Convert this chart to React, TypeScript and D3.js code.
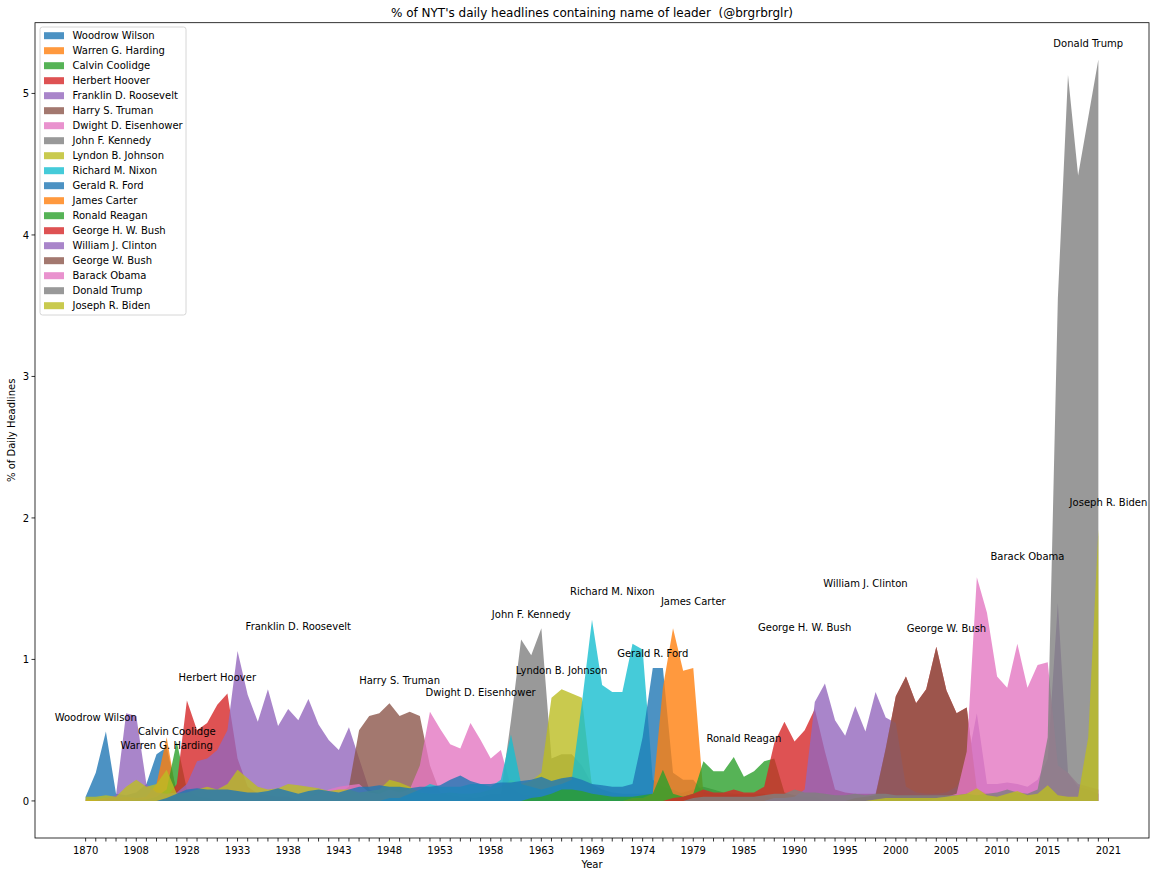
import React from 'react';
import * as d3 from 'd3';

// leaders in plotting order (later ones are drawn on top)
const leaders = [
  'Woodrow Wilson', 'Warren G. Harding', 'Calvin Coolidge', 'Herbert Hoover',
  'Franklin D. Roosevelt', 'Harry S. Truman', 'Dwight D. Eisenhower', 'John F. Kennedy',
  'Lyndon B. Johnson', 'Richard M. Nixon', 'Gerald R. Ford', 'James Carter',
  'Ronald Reagan', 'George H. W. Bush', 'William J. Clinton', 'George W. Bush',
  'Barack Obama', 'Donald Trump', 'Joseph R. Biden',
];

const N_POINTS = 101;

// x tick labels (index on the year axis -> year shown)
const tickIdx = [0, 5, 10, 15, 20, 25, 30, 35, 40, 45, 50, 55, 60, 65, 70, 75, 80, 85, 90, 95, 101];
const tickYears = [1870, 1908, 1928, 1933, 1938, 1943, 1948, 1953, 1958, 1963, 1969, 1974, 1979, 1985, 1990, 1995, 2000, 2005, 2010, 2015, 2021];
const yTicks = [0, 1, 2, 3, 4, 5];

// % of headlines per leader: [first year index, values...] (zero outside)
const wilson: [number, number[]] = [0, [0.03, 0.2, 0.49, 0.05, 0.04, 0.06, 0.12, 0.33, 0.38, 0.06, 0.04, 0.03, 0.02]];
const harding: [number, number[]] = [0, [0.01, 0.01, 0.02, 0.02, 0.03, 0.02, 0.03, 0.12, 0.45, 0.04, 0.02]];
const coolidge: [number, number[]] = [5, [0.01, 0.01, 0.03, 0.08, 0.42, 0.08, 0.03, 0.02]];
const hoover: [number, number[]] = [8, [0.02, 0.12, 0.71, 0.5, 0.55, 0.68, 0.76, 0.3, 0.1, 0.05, 0.04, 0.03, 0.03]];
const roosevelt: [number, number[]] = [2, [
  0.02, 0.04, 0.62, 0.6, 0.12, 0.06, 0.05, 0.06, 0.12, 0.28, 0.3, 0.36, 0.5, 1.06, 0.75,
  0.56, 0.79, 0.53, 0.65, 0.57, 0.72, 0.54, 0.43, 0.36, 0.52, 0.3, 0.08, 0.05, 0.04, 0.03, 0.03]];
const truman: [number, number[]] = [24, [0.03, 0.05, 0.1, 0.5, 0.6, 0.62, 0.69, 0.6, 0.63, 0.6, 0.25, 0.06, 0.04, 0.03, 0.03]];
const eisenhower: [number, number[]] = [22, [
  0.03, 0.05, 0.08, 0.1, 0.11, 0.12, 0.06, 0.05, 0.08, 0.06, 0.08, 0.25, 0.63, 0.51, 0.4,
  0.37, 0.55, 0.43, 0.3, 0.36, 0.1, 0.05, 0.04, 0.03]];
const kennedy: [number, number[]] = [38, [
  0.02, 0.03, 0.05, 0.05, 0.57, 1.14, 1.03, 1.22, 0.3, 0.33, 0.33, 0.25, 0.12, 0.08, 0.06,
  0.05, 0.05, 0.05, 0.05, 0.05, 0.05, 0.06, 0.08, 0.1, 0.08, 0.06, 0.05, 0.05, 0.05, 0.05]];
const johnson: [number, number[]] = [0, [
  0.03, 0.03, 0.04, 0.03, 0.1, 0.15, 0.1, 0.12, 0.22, 0.05,
  0.06, 0.08, 0.1, 0.08, 0.12, 0.22, 0.16, 0.1, 0.08, 0.09,
  0.12, 0.11, 0.1, 0.09, 0.07, 0.08, 0.08, 0.06, 0.07, 0.08,
  0.15, 0.13, 0.1, 0.06, 0.05, 0.05, 0.06, 0.05, 0.05, 0.06,
  0.08, 0.1, 0.15, 0.12, 0.14, 0.2, 0.73, 0.79, 0.76, 0.73,
  0.1, 0.05, 0.04, 0.03, 0.03, 0.03, 0.02]];
const nixon: [number, number[]] = [30, [
  0.02, 0.02, 0.05, 0.08, 0.12, 0.1, 0.1, 0.1, 0.12, 0.12,
  0.1, 0.15, 0.47, 0.12, 0.1, 0.08, 0.1, 0.12, 0.15, 0.69,
  1.28, 0.82, 0.77, 0.77, 1.11, 1.07, 0.15, 0.1, 0.08, 0.05,
  0.04, 0.03, 0.03]];
const ford: [number, number[]] = [8, [
  0.02, 0.05,
  0.08, 0.09, 0.08, 0.08, 0.08, 0.07, 0.06, 0.06, 0.07, 0.09,
  0.07, 0.05, 0.07, 0.08, 0.07, 0.06, 0.08, 0.1, 0.1, 0.11,
  0.1, 0.1, 0.09, 0.1, 0.1, 0.11, 0.15, 0.18, 0.14, 0.12,
  0.12, 0.13, 0.13, 0.14, 0.15, 0.17, 0.14, 0.16, 0.17, 0.15,
  0.12, 0.11, 0.1, 0.1, 0.12, 0.45, 0.94, 0.94, 0.2, 0.15,
  0.15, 0.06, 0.05, 0.04, 0.04, 0.03, 0.03]];
const carter: [number, number[]] = [54, [0.02, 0.02, 0.05, 0.8, 1.22, 0.92, 0.94, 0.05, 0.04, 0.03, 0.03, 0.02, 0.02]];
const reagan: [number, number[]] = [44, [
  0.02, 0.03, 0.05, 0.08, 0.08, 0.07,
  0.05, 0.04, 0.03, 0.03, 0.03, 0.04, 0.05, 0.22, 0.05, 0.03,
  0.05, 0.28, 0.21, 0.21, 0.31, 0.17, 0.21, 0.28, 0.3, 0.06,
  0.04, 0.03, 0.03]];
const bushSr: [number, number[]] = [58, [
  0.02, 0.03,
  0.05, 0.08, 0.06, 0.06, 0.08, 0.06, 0.06, 0.1, 0.41, 0.56,
  0.42, 0.5, 0.65, 0.35, 0.08, 0.06, 0.05, 0.05, 0.05, 0.37,
  0.74, 0.88, 0.69, 0.79, 1.09, 0.78, 0.62, 0.66, 0.08, 0.05,
  0.04, 0.03, 0.03]];
const clinton: [number, number[]] = [68, [
  0.02, 0.02,
  0.03, 0.08, 0.7, 0.83, 0.57, 0.46, 0.67, 0.49, 0.77, 0.59,
  0.55, 0.1, 0.06, 0.05, 0.05, 0.06, 0.1, 0.25, 0.62, 0.12,
  0.12, 0.13, 0.12, 0.1, 0.15, 0.3, 1.4, 0.2, 0.1, 0.08,
  0.05]];
const bushJr: [number, number[]] = [76, [0.02, 0.03, 0.04, 0.37, 0.74, 0.88, 0.69, 0.79, 1.09, 0.78, 0.62, 0.66, 0.08, 0.05, 0.04, 0.03, 0.03]];
const obama: [number, number[]] = [84, [0.02, 0.03, 0.05, 0.35, 1.58, 1.33, 0.88, 0.8, 1.11, 0.8, 0.96, 0.98, 0.25, 0.2, 0.12, 0.1, 0.08]];
const trump: [number, number[]] = [60, [
  0.02, 0.03, 0.03, 0.03, 0.03, 0.03, 0.03, 0.04, 0.05, 0.05,
  0.08, 0.06, 0.06, 0.05, 0.04, 0.04, 0.05, 0.04, 0.05, 0.05,
  0.04, 0.04, 0.04, 0.04, 0.04, 0.04, 0.04, 0.05, 0.04, 0.05,
  0.06, 0.08, 0.06, 0.05, 0.08, 0.45, 3.55, 5.13, 4.42, 4.83,
  5.24]];
const biden: [number, number[]] = [78, [
  0.01, 0.02,
  0.02, 0.02, 0.02, 0.02, 0.02, 0.03, 0.04, 0.05, 0.09, 0.04,
  0.03, 0.05, 0.07, 0.04, 0.05, 0.11, 0.04, 0.03, 0.03, 0.45,
  1.92]];

const seriesData = [
  wilson, harding, coolidge, hoover, roosevelt, truman, eisenhower, kennedy, johnson, nixon,
  ford, carter, reagan, bushSr, clinton, bushJr, obama, trump, biden,
];

// name annotations: year index and value where each label sits
const labelIdx = [1, 8, 9, 13, 21, 31, 39, 44, 47, 52, 56, 60, 65, 71, 77, 85, 93, 99, 101];
const labelVal = [0.565, 0.367, 0.466, 0.847, 1.208, 0.826, 0.742, 1.292, 0.897, 1.455, 1.017, 1.384, 0.417, 1.2, 1.511, 1.193, 1.702, 5.33, 2.083];

const tab10 = ['#1f77b4', '#ff7f0e', '#2ca02c', '#d62728', '#9467bd', '#8c564b', '#e377c2', '#7f7f7f', '#bcbd22', '#17becf'];

const FONT = 'DejaVu Sans, sans-serif';
const W = 1157;
const H = 876;
const AX = { left: 35, right: 1149, top: 22.7, bottom: 838 };

export default function App() {
  const x = d3.scaleLinear().domain([-5, 105]).range([AX.left, AX.right]);
  const y = d3.scaleLinear().domain([-0.262, 5.5]).range([AX.bottom, AX.top]);

  const full = seriesData.map(([start, vals]) =>
    d3.range(N_POINTS).map(i => (i >= start && i < start + vals.length ? vals[i - start] : 0))
  );

  const area = d3.area<number>()
    .x((_, i) => x(i))
    .y0(y(0))
    .y1(d => y(d));

  const allTicks = d3.range(0, 102);
  const midX = (AX.left + AX.right) / 2;
  const midY = (AX.top + AX.bottom) / 2;

  return (
    <div style={{ position: 'absolute', left: 0, top: 0 }}>
      <svg width={W} height={H} style={{ display: 'block', background: '#fff' }} fontFamily={FONT}>
        <rect x={0} y={0} width={W} height={H} fill="#fff" />

        <text x={midX} y={16.5} textAnchor="middle" fontSize={12} fill="#000" style={{ whiteSpace: 'pre' }}>
          {"% of NYT's daily headlines containing name of leader  (@brgrbrglr)"}
        </text>

        <g>
          {full.map((vals, k) => (
            <path key={leaders[k]} d={area(vals) || ''} fill={tab10[k % 10]} fillOpacity={0.8} />
          ))}
        </g>

        <g fontSize={10} fill="#000">
          {leaders.map((name, k) => (
            <text key={name} x={x(labelIdx[k])} y={y(labelVal[k])} textAnchor="middle">{name}</text>
          ))}
        </g>

        {/* axes frame */}
        <rect x={AX.left} y={AX.top} width={AX.right - AX.left} height={AX.bottom - AX.top}
          fill="none" stroke="#000" strokeWidth={0.8} />

        {/* x ticks */}
        <g>
          {allTicks.map(t => (
            <line key={t} x1={x(t)} x2={x(t)} y1={AX.bottom} y2={AX.bottom + 3.5} stroke="#000" strokeWidth={0.8} />
          ))}
          {tickIdx.map((t, k) => (
            <text key={t} x={x(t)} y={AX.bottom + 16} textAnchor="middle" fontSize={10} fill="#000">{tickYears[k]}</text>
          ))}
        </g>
        <text x={midX} y={868} textAnchor="middle" fontSize={10} fill="#000">Year</text>

        {/* y ticks */}
        <g>
          {yTicks.map(t => (
            <g key={t}>
              <line x1={AX.left - 3.5} x2={AX.left} y1={y(t)} y2={y(t)} stroke="#000" strokeWidth={0.8} />
              <text x={AX.left - 6} y={y(t) + 3.6} textAnchor="end" fontSize={10} fill="#000">{t}</text>
            </g>
          ))}
        </g>
        <text transform={`translate(15,${midY}) rotate(-90)`} textAnchor="middle" fontSize={10} fill="#000">
          % of Daily Headlines
        </text>

        {/* legend */}
        <g>
          <rect x={40} y={27} width={146} height={288} rx={2.5} fill="#fff" fillOpacity={0.8} stroke="#cccccc" strokeWidth={0.8} />
          {leaders.map((name, k) => {
            const cy = 35.7 + 15 * k;
            return (
              <g key={name}>
                <rect x={44} y={cy - 3.5} width={20} height={7} fill={tab10[k % 10]} fillOpacity={0.8} />
                <text x={72.5} y={cy + 3.6} fontSize={10} fill="#000">{name}</text>
              </g>
            );
          })}
        </g>
      </svg>
    </div>
  );
}
